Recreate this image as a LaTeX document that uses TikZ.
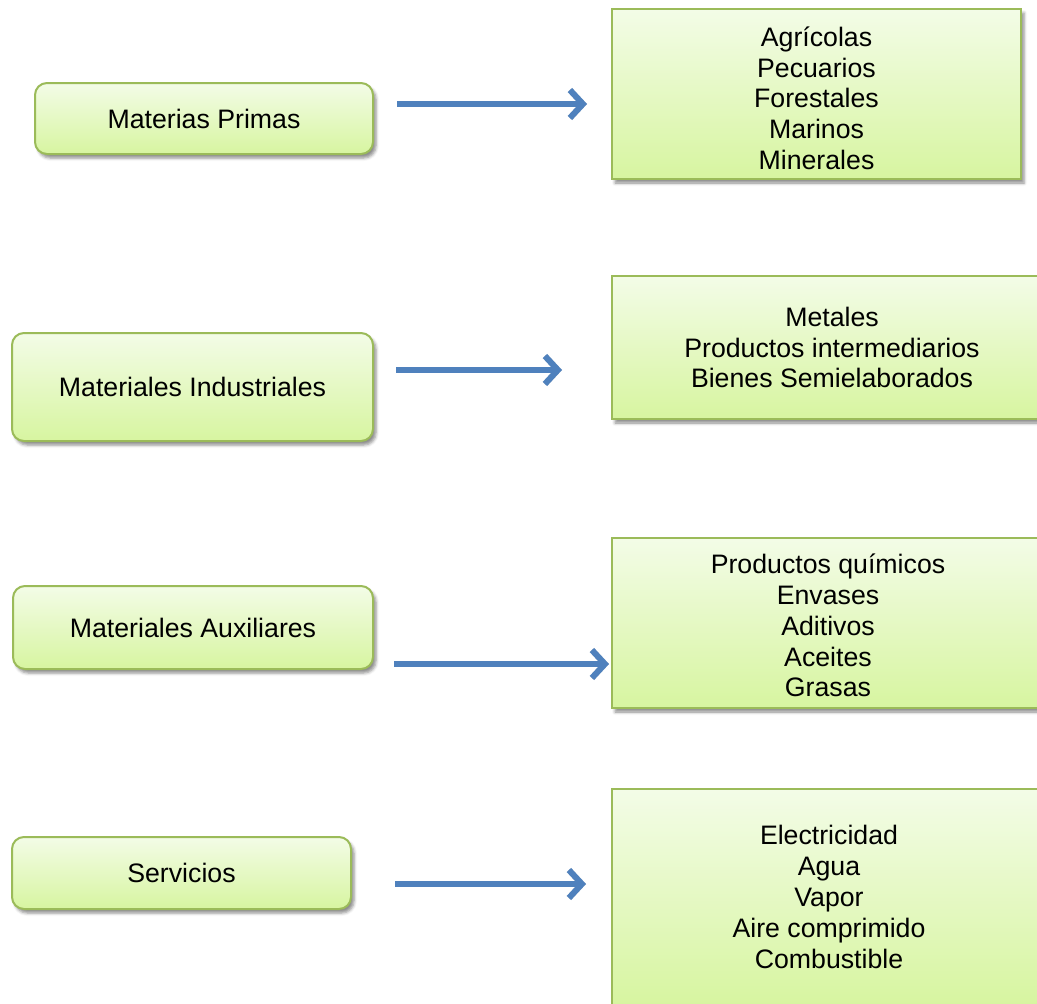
\documentclass[tikz,border=0pt]{standalone}
\usepackage{fontspec}
\setmainfont{Liberation Sans}
\usetikzlibrary{arrows.meta,shadows.blur}
\definecolor{boxtop}{HTML}{F3FCE7}
\definecolor{boxbot}{HTML}{D7F5A0}
\definecolor{boxline}{HTML}{9BBB59}
\definecolor{arrowblue}{HTML}{4F81BD}
\tikzset{
  card/.style={draw=boxline, line width=2pt, top color=boxtop, bottom color=boxbot,
    inner sep=0pt, anchor=north west, align=center,
    font=\fontsize{26.7}{30.8}\selectfont,
    blur shadow={shadow xshift=3pt, shadow yshift=-4pt, shadow blur radius=3pt, shadow opacity=45}},
  source/.style={card, rounded corners=12pt},
  target/.style={card},
  barb/.tip={Straight Barb[length=13pt,width=28pt,line width=6pt]},
  flow/.style={draw=arrowblue, line width=5.5pt, -barb},
  flowshadow/.style={draw=black, draw opacity=0.15, line width=6.5pt, -barb, shift={(2,3)}},
}
\begin{document}
\begin{tikzpicture}[x=1pt,y=-1pt]
\useasboundingbox (0,0) rectangle (1037,1004);

% categories on the left
\node[source, minimum width=338pt, minimum height=71pt]  (s1) at (34,82)  {Materias Primas};
\node[source, minimum width=361pt, minimum height=108pt] (s2) at (11,332) {Materiales Industriales};
\node[source, minimum width=360pt, minimum height=83pt]  (s3) at (12,585) {Materiales Auxiliares};
\node[source, minimum width=339pt, minimum height=72pt]  (s4) at (11,836) {Servicios};

% examples on the right
\node[target, minimum width=409pt, minimum height=170pt] (t1) at (611,8)
  {\rule{0pt}{28pt}Agrícolas\\Pecuarios\\Forestales\\Marinos\\Minerales};
\node[target, minimum width=440pt, minimum height=143pt] (t2) at (611,275)
  {Metales\\Productos intermediarios\\Bienes Semielaborados};
\node[target, minimum width=432pt, minimum height=170pt] (t3) at (611,537)
  {\rule{0pt}{25pt}Productos químicos\\Envases\\Aditivos\\Aceites\\Grasas};
\node[target, minimum width=434pt, minimum height=216pt] (t4) at (611,788)
  {Electricidad\\Agua\\Vapor\\Aire comprimido\\Combustible};

% arrow end points
\coordinate (a1s) at (397,104); \coordinate (a1e) at (587,104);
\coordinate (a2s) at (396,370); \coordinate (a2e) at (562,370);
\coordinate (a3s) at (394,664); \coordinate (a3e) at (609,664);
\coordinate (a4s) at (395,884); \coordinate (a4e) at (586,884);

\foreach \k in {1,2,3,4}{
  \draw[flowshadow] (a\k s) -- (a\k e);
  \draw[flow] (a\k s) -- (a\k e);
}
\end{tikzpicture}
\end{document}
